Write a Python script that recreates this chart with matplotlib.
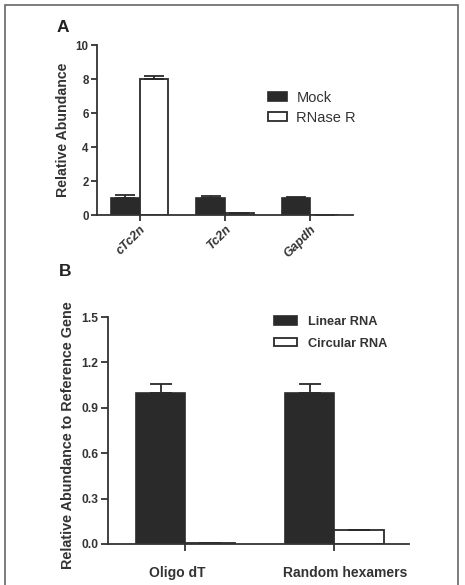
import matplotlib
matplotlib.use("Agg")
import matplotlib.pyplot as plt
from matplotlib.patches import Rectangle
from matplotlib.transforms import ScaledTranslation
import numpy as np

plt.rcParams['font.family'] = ['Liberation Sans', 'DejaVu Sans']

# panel A data
genes = ['cTc2n', 'Tc2n', 'Gapdh']
mock = [1.0, 1.0, 1.0]
mock_err = [0.15, 0.13, 0.08]
rnase = [8.0, 0.1, 0.02]
rnase_err = [0.2, 0.02, 0.005]

# panel B data
primers = ['Oligo dT', 'Random hexamers']
linear = [1.0, 1.0]
linear_err = [0.055, 0.06]
circular = [0.005, 0.09]
circular_err = [0.002, 0.004]

DARK = '#2a2a2a'
GREY = '#333333'
W, H = 465, 585


def px(x0, y0, x1, y1):
    # pixel box (top-left origin) -> figure fraction rect
    return [x0 / W, 1 - y1 / H, (x1 - x0) / W, (y1 - y0) / H]


def style_axes(ax, tlen):
    for s in ['top', 'right']:
        ax.spines[s].set_visible(False)
    for s in ['left', 'bottom']:
        ax.spines[s].set_linewidth(1.3)
        ax.spines[s].set_color(GREY)
    ax.tick_params(direction='out', length=tlen, width=1.3, color=GREY, pad=2)


fig = plt.figure(figsize=(W / 100, H / 100), dpi=100)
fig.patches.append(Rectangle((5 / W, -0.01), 453 / W, 1 - 5 / H + 0.01,
                             transform=fig.transFigure, fill=False,
                             edgecolor='#666666', linewidth=1.2))

ekw = dict(ecolor=DARK, elinewidth=1.3, capthick=1.3)

# ---- panel A
ax1 = fig.add_axes(px(97, 45, 353, 215))
x = np.arange(len(genes))
bw = 0.335
ax1.bar(x - bw / 2, mock, bw, color=DARK, edgecolor=DARK, linewidth=1.2,
        yerr=[np.zeros(3), mock_err], capsize=7, error_kw=ekw, label='Mock')
ax1.bar(x + bw / 2, rnase, bw, color='white', edgecolor=DARK, linewidth=1.3,
        yerr=[np.zeros(3), rnase_err], capsize=7, error_kw=ekw, label='RNase R')
ax1.set_xlim(-0.5, 2.5)
ax1.set_ylim(0, 10)
ax1.set_yticks([0, 2, 4, 6, 8, 10])
ax1.set_xticks(x)
ax1.set_xticklabels(genes, rotation=45, ha='right', rotation_mode='anchor',
                    fontweight='bold', fontstyle='italic', fontsize=9, color=GREY)
for t in ax1.get_yticklabels():
    t.set_fontweight('bold')
    t.set_fontsize(8.3)
    t.set_color(GREY)
ax1.set_ylabel('Relative Abundance', fontweight='bold', fontsize=10.2,
               color=GREY, labelpad=4)
style_axes(ax1, 4)
ax1.legend(loc='upper left', bbox_to_anchor=(268 / W, 1 - 91 / H),
           bbox_transform=fig.transFigure, frameon=False, fontsize=10.5,
           borderpad=0, borderaxespad=0, handlelength=1.3, handleheight=0.6,
           handletextpad=0.65, labelspacing=0.4, labelcolor=GREY)

# ---- panel B
ax2 = fig.add_axes(px(108, 317, 409, 544))
x2 = np.arange(len(primers))
bw2 = 0.335
ax2.bar(x2 - bw2 / 2, linear, bw2, color=DARK, edgecolor=DARK, linewidth=1.2,
        yerr=[np.zeros(2), linear_err], capsize=8, error_kw=ekw, label='Linear RNA')
ax2.bar(x2 + bw2 / 2, circular, bw2, color='white', edgecolor=DARK, linewidth=1.3,
        yerr=[np.zeros(2), circular_err], capsize=8, error_kw=ekw, label='Circular RNA')
ax2.set_xlim(-0.52, 1.5)
ax2.set_ylim(0, 1.5)
ax2.set_yticks([0, 0.3, 0.6, 0.9, 1.2, 1.5])
ax2.set_yticklabels(['0.0', '0.3', '0.6', '0.9', '1.2', '1.5'])
ax2.set_xticks(x2)
ax2.set_xticklabels(primers, fontweight='bold', fontsize=10, color=GREY)
for t in ax2.get_yticklabels():
    t.set_fontweight('bold')
    t.set_fontsize(8.7)
    t.set_color(GREY)
ax2.set_ylabel('Relative Abundance to Reference Gene', fontweight='bold',
               fontsize=10.4, color=GREY)
ax2.yaxis.set_label_coords(-0.108, 0.478)
style_axes(ax2, 5)
ax2.tick_params(axis='x', pad=11)
# labels in the reference sit a little off their ticks
for lab, dx in zip(ax2.get_xticklabels(), [-8, 11]):
    lab.set_transform(lab.get_transform() + ScaledTranslation(dx / 100, 0, fig.dpi_scale_trans))
ax2.legend(loc='upper left', bbox_to_anchor=(274 / W, 1 - 316 / H),
           bbox_transform=fig.transFigure, frameon=False,
           prop={'weight': 'bold', 'size': 9.2},
           borderpad=0, borderaxespad=0, handlelength=1.8, handleheight=0.65,
           handletextpad=0.85, labelspacing=0.75, labelcolor=GREY)

fig.text(63 / W, 1 - 27 / H, 'A', fontsize=12.5, fontweight='bold', ha='center',
         va='center', color='#222222')
fig.text(65 / W, 1 - 271 / H, 'B', fontsize=12.5, fontweight='bold', ha='center',
         va='center', color='#222222')

fig.savefig('out.png', dpi=100)
